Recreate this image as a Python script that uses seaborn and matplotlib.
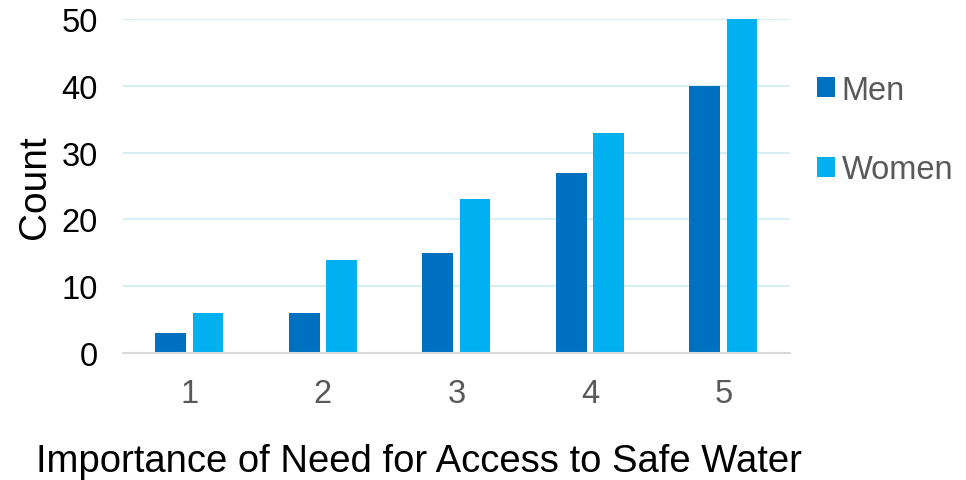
import matplotlib
matplotlib.use("Agg")
import matplotlib.pyplot as plt
from matplotlib.patches import Patch
import pandas as pd
import seaborn as sns

categories = ["1", "2", "3", "4", "5"]
men = [3, 6, 15, 27, 40]
women = [6, 14, 23, 33, 50]
y_ticks = [0, 10, 20, 30, 40, 50]
series_names = ["Men", "Women"]
colors = ["#0070C0", "#00B0F0"]

df = pd.DataFrame({
    "Importance": categories * 2,
    "Count": men + women,
    "Group": [series_names[0]] * len(men) + [series_names[1]] * len(women),
})

sns.set_theme(style="white")
plt.rcParams["font.family"] = ["Liberation Sans", "DejaVu Sans"]

fig = plt.figure(figsize=(9.66, 4.81), dpi=100)
ax = fig.add_axes([0.127, 0.264, 0.691, 0.694])

sns.barplot(data=df, x="Importance", y="Count", hue="Group",
            palette=colors, width=0.56, gap=0.18, ax=ax,
            saturation=1, legend=False, linewidth=0)

ax.set_xlim(-0.5, 4.5)
ax.set_ylim(0, 50)
ax.set_yticks(y_ticks)
ax.yaxis.grid(True, color="#D5EFF2", linewidth=1.5)
ax.set_axisbelow(True)
for s in ["top", "right", "left"]:
    ax.spines[s].set_visible(False)
ax.spines["bottom"].set_color("#D9D9D9")
ax.spines["bottom"].set_linewidth(1.5)
ax.tick_params(axis="both", length=0)
ax.tick_params(axis="y", labelsize=23.5, labelcolor="black", pad=18)
ax.tick_params(axis="x", labelsize=23.5, labelcolor="#595959", pad=18)

ax.set_ylabel("Count", fontsize=28, color="black", labelpad=6)
ax.set_xlabel("Importance of Need for Access to Safe Water", fontsize=27.5,
              color="black")
ax.xaxis.set_label_coords(0.444, -0.27)

handles = [Patch(facecolor=c, edgecolor="none") for c in colors]
leg = fig.legend(handles, series_names, loc="upper left",
                 bbox_to_anchor=(0.846, 0.843), frameon=False,
                 fontsize=23.5, labelcolor="#595959",
                 handlelength=0.55, handleheight=0.55, handletextpad=0.2,
                 labelspacing=1.5, borderaxespad=0, borderpad=0)

fig.savefig("out.png", dpi=100)
